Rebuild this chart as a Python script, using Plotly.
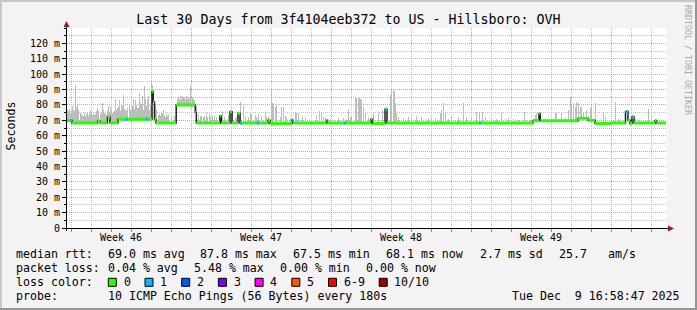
import numpy as np
import pandas as pd
import plotly.graph_objects as go

# ---------------- data ----------------
range_start = "2025-11-09 19:12:00"
range_end = "2025-12-09 19:12:00"

# median rtt (ms): step levels, each starting at a day offset from range_start
median_start_day = [0.00, 0.25, 1.525, 1.65, 2.025, 2.15, 2.55, 4.25, 4.31, 4.375, 4.45, 5.46, 6.415, 6.465,
                    7.65, 7.715, 8.15, 8.25, 8.55, 8.65, 10.05, 10.15, 11.25, 11.30, 12.975, 13.025,
                    15.20, 15.275, 15.90, 16.00, 23.30, 23.60, 23.665, 25.55, 26.05, 26.40, 27.15,
                    27.925, 28.05, 28.15, 28.25, 28.35, 29.40, 29.475]
median_ms = [69.8, 68.3, 69.6, 68.3, 72.2, 68.3, 70.7, 88.5, 82.0, 70.5, 68.3, 80.0, 75.0, 68.3,
             72.8, 68.3, 75.6, 68.3, 74.5, 68.3, 70.0, 68.0, 70.0, 68.2, 70.0, 68.3,
             70.7, 68.0, 77.2, 68.3, 69.8, 74.5, 69.7, 71.3, 70.0, 68.0, 68.3,
             75.6, 70.2, 68.0, 72.2, 68.3, 69.8, 68.3]
median_end_day = 29.95

# smoke: highest ping per interval (ms), by day offset
smoke_day = [
    0.00, 0.025, 0.075, 0.10, 0.125, 0.175, 0.225, 0.275, 0.325, 0.35, 0.415, 0.45, 0.465, 0.515, 0.55,
    0.575, 0.65, 0.70, 0.75, 0.80, 0.85, 0.90, 0.95, 1.00, 1.05, 1.10, 1.15, 1.20, 1.25, 1.30, 1.35,
    1.40, 1.45, 1.50, 1.55, 1.575, 1.65, 1.70, 1.75, 1.80, 1.85, 1.90, 1.95, 2.00, 2.05, 2.10, 2.15,
    2.20, 2.25, 2.30, 2.35, 2.40, 2.45, 2.50, 2.55, 2.60, 2.65, 2.70, 2.75, 2.815, 2.85, 2.90, 2.95,
    3.00, 3.035, 3.10, 3.15, 3.20, 3.25, 3.30, 3.35, 3.40, 3.45, 3.50, 3.55, 3.60, 3.65, 3.70, 3.75,
    3.775, 3.80, 3.85, 3.90, 3.925, 3.95, 4.00, 4.05, 4.065, 4.10, 4.15, 4.20, 4.235, 4.285, 4.335,
    4.40, 4.45, 4.485, 4.55, 4.60, 4.65, 4.70, 4.75, 4.80, 4.85, 4.90, 4.95, 5.00, 5.05, 5.20, 5.35,
    5.50, 5.55, 5.60, 5.65, 5.70, 5.75, 5.80, 5.85, 5.90, 5.95, 6.00, 6.05, 6.10, 6.185, 6.25, 6.30,
    6.35, 6.45, 6.55, 6.65, 6.70, 6.80, 6.85, 6.95, 7.00, 7.10, 7.15, 7.25, 7.35,
    7.483, 7.60, 7.75, 7.867, 8.067, 8.267, 8.40, 8.467, 8.65, 8.80, 8.933, 9.067, 9.15, 9.233,
    9.40, 9.483, 9.567, 9.733, 9.90, 9.983, 10.067, 10.20, 10.267, 10.30, 10.40, 10.483, 10.65,
    10.733, 10.817, 10.90, 10.983, 11.15, 11.40, 11.483, 11.567, 11.767, 11.90, 12.233, 12.483,
    12.60, 12.70, 12.817, 12.90, 13.15, 13.567, 13.817, 13.983, 14.067, 14.15, 14.233, 14.40,
    14.45, 14.483, 14.55, 14.567, 14.60, 14.65, 14.733, 14.817, 14.90,
    15.067, 15.317, 15.567, 15.767, 16.15, 16.20, 16.233, 16.317, 16.35, 16.40, 16.483, 16.567,
    16.817, 17.067, 17.233, 17.483, 17.733, 17.90, 18.067, 18.233, 18.433, 18.65, 18.733, 18.817,
    18.90, 19.067, 19.233, 19.567, 19.817, 19.983, 20.233, 20.483, 20.60, 20.767, 20.90, 21.20,
    21.483, 21.733, 21.90, 22.067, 22.317,
    22.567, 22.867, 23.15, 23.40, 23.483, 23.90, 24.40, 24.483, 24.70, 24.90, 25.067, 25.15,
    25.233, 25.317, 25.40, 25.483, 25.567, 25.65, 25.733, 25.817, 25.983, 26.15, 26.233, 26.40,
    26.817, 26.90, 27.40, 27.567, 27.983, 28.40, 29.067, 29.233, 29.40, 29.733]
smoke_top_ms = [
    75, 77, 76, 74.5, 77.5, 75, 76, 79.5, 77, 76, 93, 74, 78, 80, 75.5,
    77, 75, 74, 73, 72.5, 74.5, 73, 74, 75, 73, 74, 76.5, 75, 73.5, 75, 73.5,
    74, 76, 78, 74.5, 76, 74, 75, 81, 76.5, 75, 74, 73.5, 76, 79, 75, 78.9,
    76, 74.5, 75, 76, 84, 77, 78, 78.5, 83.2, 76, 80, 79, 86.5, 77.5, 77, 76,
    78, 78, 80, 77, 76, 79, 84, 77.5, 83, 80, 78, 78, 88, 81, 80, 79,
    86, 77, 92.3, 84, 82, 79, 84, 80, 85.5, 77, 80, 83, 95.5, 93, 86,
    80, 75, 77, 73.5, 74, 72.5, 75, 74, 76.5, 73, 72, 74, 73, 74, 73, 72.5,
    84, 85, 83, 85.5, 84, 86, 84.5, 85, 83, 86, 84, 85, 84, 92.6, 85, 84,
    83, 79, 74, 73, 72.5, 72, 73, 75, 72, 74, 72, 72.5, 73,
    72.4, 73.4, 76, 72.4, 73.4, 76.3, 71.3, 72.4, 81.7, 79, 72.4, 72.4, 74.9, 74.0,
    73.4, 72.4, 74.0, 72.8, 74.9, 72.4, 72.8, 90.8, 81.1, 80, 78.9, 80.0, 72.4,
    78.5, 78.5, 72.8, 72.4, 71.3, 75.6, 74.5, 74.9, 72.4, 71.3, 70.2, 73.4,
    76.3, 75.6, 72.4, 72.4, 70.6, 71.3, 71.3, 70.6, 77.1, 72.4, 71.9, 84.3,
    84.3, 84.3, 82, 84.3, 84.3, 84, 83, 78.5, 74.5,
    72.4, 74.5, 74.5, 76.7, 86.5, 88, 90.8, 89.7, 89, 81.1, 74.5, 72.4,
    71.3, 71.9, 70.6, 72.8, 72.4, 70.6, 71.3, 70.6, 71.3, 74.5, 76.7, 81.1,
    75.6, 70.6, 72.4, 72.4, 81.1, 72.4, 70.6, 75.6, 74.5, 75.6, 72.4, 71.3,
    70.6, 74.5, 70.6, 71.3, 70.6,
    70.2, 75.6, 70.2, 73.4, 74.5, 70.6, 74.9, 74.9, 74.5, 71.3, 76.7, 85.4,
    80.0, 81.1, 78.9, 82.2, 81.1, 78.5, 78.9, 75.6, 76.7, 77.8, 80.0, 81.1,
    74.9, 72.4, 81.8, 70.6, 75.6, 70.6, 77.1, 71.3, 70.2, 70.2]

# packet loss events (lost pings out of 10)
loss_day = [0.20, 2.985, 3.985, 8.70, 9.55, 11.285, 13.90, 15.965, 20.65, 28.00, 28.30]
loss_count = [1, 1, 1, 1, 1, 1, 1, 1, 1, 1, 1]

y_tick_vals = [0, 10, 20, 30, 40, 50, 60, 70, 80, 90, 100, 110, 120]
y_tick_text = ["0", "10 m", "20 m", "30 m", "40 m", "50 m", "60 m", "70 m", "80 m", "90 m",
               "100 m", "110 m", "120 m"]
week_start = ["2025-11-09", "2025-11-16", "2025-11-23", "2025-11-30"]
week_label = ["Week 46", "Week 47", "Week 48", "Week 49"]

loss_color_label = ["0", "1", "2", "3", "4", "5", "6-9", "10/10"]
loss_color_value = ["#26ff00", "#00b8ff", "#0059ff", "#7e00ff", "#ff00ff", "#ff5500", "#ff0000", "#a10000"]

rtt_stat_value = [69.0, 87.8, 67.5, 68.1]
rtt_stat_name = ["avg", "max", "min", "now"]
rtt_sd = 2.7
rtt_am_s = 25.7
loss_stat_value = [0.04, 5.48, 0.00, 0.00]
probe_text = "10 ICMP Echo Pings (56 Bytes) every 180s"
timestamp_text = "Tue Dec  9 16:58:47 2025"
title_text = "Last 30 Days from 3f4104eeb372 to US - Hillsboro: OVH"

# ---------------- helpers ----------------
t0 = pd.Timestamp(range_start)
def to_time(days):
    return [t0 + pd.Timedelta(days=float(d)) for d in days]

med_days = np.array(median_start_day)
med_vals = np.array(median_ms)
def median_at(d):
    i = np.searchsorted(med_days, d, side="right") - 1
    return med_vals[max(i, 0)]

MONO = "DejaVu Sans Mono"
def px_x(px):
    return (px - 67) / 600.0
def px_y(py):
    return (228 - py) / 200.0

fig = go.Figure()

# smoke
s_base = [median_at(d) - 0.3 for d in smoke_day]
s_h = [max(top - b, 0.5) for top, b in zip(smoke_top_ms, s_base)]
fig.add_trace(go.Bar(x=to_time(smoke_day), y=s_h, base=s_base, width=4320000 * 1.0,
                     marker=dict(color="rgba(188,188,188,0.99)", line=dict(width=0)),
                     hoverinfo="skip"))

# median - thin dark step line (verticals)
fig.add_trace(go.Scatter(x=to_time(median_start_day + [median_end_day]),
                         y=median_ms + [median_ms[-1]], mode="lines",
                         line=dict(color="#202020", width=1.5, shape="hv"), hoverinfo="skip"))

# median - green horizontal segments (0 loss)
ends = median_start_day[1:] + [median_end_day]
gx, gy = [], []
for s, e, v in zip(median_start_day, ends, median_ms):
    gx += [t0 + pd.Timedelta(days=s), t0 + pd.Timedelta(days=e), None]
    gy += [v, v, None]
fig.add_trace(go.Scatter(x=gx, y=gy, mode="lines", line=dict(color=loss_color_value[0], width=3),
                         hoverinfo="skip", connectgaps=False))

# loss-coloured pieces
bx, by = [], []
for d in loss_day:
    v = median_at(d)
    bx += [t0 + pd.Timedelta(days=d - 0.05), t0 + pd.Timedelta(days=d + 0.05), None]
    by += [v, v, None]
fig.add_trace(go.Scatter(x=bx, y=by, mode="lines", line=dict(color=loss_color_value[1], width=3),
                         hoverinfo="skip"))

# ---------------- layout ----------------
fig.update_layout(
    width=697, height=310,
    margin=dict(l=67, r=30, t=28, b=82, pad=0),
    paper_bgcolor="#f3f3f3", plot_bgcolor="#ffffff",
    showlegend=False, bargap=0,
    font=dict(family=MONO, size=10, color="#000000"),
    title=dict(text=title_text, x=0.5, xref="container", xanchor="center",
               y=1 - 19.5 / 310, yref="container", yanchor="middle",
               font=dict(family=MONO, size=13.3, color="#000000")),
)
fig.update_xaxes(
    type="date", range=[range_start, range_end],
    showgrid=True, gridcolor="rgb(235,150,150)", griddash="1px,1px", gridwidth=1,
    tick0="2025-11-16", dtick=7 * 86400000, showticklabels=False,
    ticks="outside", ticklen=3, tickcolor="rgb(220,120,120)",
    zeroline=False, showline=False, fixedrange=True,
    minor=dict(tick0="2025-11-09", dtick=86400000, showgrid=True, gridcolor="rgb(190,190,190)",
               griddash="1px,1px", gridwidth=1, ticks="outside", ticklen=3, tickcolor="#888888"),
)
fig.update_yaxes(
    range=[0, 130], tickmode="array", tickvals=y_tick_vals, ticktext=y_tick_text,
    showgrid=True, gridcolor="rgb(235,150,150)", griddash="1px,1px", gridwidth=1,
    ticks="outside", ticklen=4, tickcolor="#000000",
    tickfont=dict(family=MONO, size=10, color="#000000"),
    zeroline=False, showline=False, fixedrange=True,
    minor=dict(dtick=5, showgrid=True, gridcolor="rgb(190,190,190)", griddash="1px,1px",
               gridwidth=1, ticks="outside", ticklen=2, tickcolor="#000000"),
)

shapes = []
# frame of the image
shapes.append(dict(type="rect", xref="paper", yref="paper", x0=px_x(0), x1=px_x(697), y0=px_y(0), y1=px_y(2),
                   fillcolor="#c8c8c8", line=dict(width=0), layer="above"))
shapes.append(dict(type="rect", xref="paper", yref="paper", x0=px_x(0), x1=px_x(2), y0=px_y(0), y1=px_y(310),
                   fillcolor="#c8c8c8", line=dict(width=0), layer="above"))
shapes.append(dict(type="rect", xref="paper", yref="paper", x0=px_x(0), x1=px_x(697), y0=px_y(308), y1=px_y(310),
                   fillcolor="#969696", line=dict(width=0), layer="above"))
shapes.append(dict(type="rect", xref="paper", yref="paper", x0=px_x(695), x1=px_x(697), y0=px_y(0), y1=px_y(310),
                   fillcolor="#969696", line=dict(width=0), layer="above"))
# axes
shapes.append(dict(type="line", xref="paper", yref="paper", x0=px_x(66.5), x1=px_x(66.5),
                   y0=px_y(231), y1=px_y(24), line=dict(color="#000000", width=1), layer="above"))
shapes.append(dict(type="line", xref="paper", yref="paper", x0=px_x(63), x1=px_x(670),
                   y0=px_y(228.5), y1=px_y(228.5), line=dict(color="#000000", width=1), layer="above"))
# arrows
shapes.append(dict(type="path", xref="paper", yref="paper",
                   path="M {} {} L {} {} L {} {} Z".format(px_x(63.5), px_y(27), px_x(69.5), px_y(27),
                                                           px_x(66.5), px_y(21)),
                   fillcolor="#9b1c1c", line=dict(width=0), layer="above"))
shapes.append(dict(type="path", xref="paper", yref="paper",
                   path="M {} {} L {} {} L {} {} Z".format(px_x(668), px_y(225.5), px_x(668), px_y(231.5),
                                                           px_x(674), px_y(228.5)),
                   fillcolor="#9b1c1c", line=dict(width=0), layer="above"))

ann = []
def text(px, py, s, size=11.6, anchor="left", color="#000000", angle=0):
    ann.append(dict(xref="paper", yref="paper", x=px_x(px), y=px_y(py), text=s, showarrow=False,
                    xanchor=anchor, yanchor="middle", borderpad=0, textangle=angle,
                    font=dict(family=MONO, size=size, color=color)))

# week labels centred in each week
for ws, wl in zip(week_start, week_label):
    c = pd.Timestamp(ws) + pd.Timedelta(days=3.5)
    ann.append(dict(xref="x", yref="paper", x=c, y=px_y(237.5), text=wl, showarrow=False,
                    xanchor="center", yanchor="middle", borderpad=0,
                    font=dict(family=MONO, size=10, color="#000000")))

# y-axis title and watermark
text(10.5, 126, "Seconds", size=11.6, anchor="center", angle=-90)
text(688, 60, "RRDTOOL / TOBI OETIKER", size=8.3, anchor="center", color="#a8a8a8", angle=90)

# legend lines
L1, L2, L3, L4 = 254, 268, 282.3, 295.7
text(15.3, L1, "median rtt:")
for s, v, n in zip([106.6, 199.3, 292.0, 385.3], rtt_stat_value, rtt_stat_name):
    text(s, L1, "{:.1f} ms {}".format(v, n))
text(478.6, L1, "{:.1f} ms sd".format(rtt_sd))
text(557.6, L1, "{:.1f}".format(rtt_am_s))
text(606.6, L1, "am/s")

text(15.3, L2, "packet loss:")
for s, v, n in zip([106.6, 192.6, 278.6, 364.6], loss_stat_value, rtt_stat_name):
    text(s, L2, "{:.2f} % {}".format(v, n))

text(15.3, L3, "loss color:")
bx0 = 108.3
for lab, col in zip(loss_color_label, loss_color_value):
    shapes.append(dict(type="rect", xref="paper", yref="paper", x0=px_x(bx0), x1=px_x(bx0 + 8),
                       y0=px_y(L3 + 4), y1=px_y(L3 - 4), fillcolor=col,
                       line=dict(color="#000000", width=1), layer="above"))
    text(bx0 + 14.3, L3, lab)
    bx0 += 15 + 7 * len(lab) + 14.7

text(15.3, L4, "probe:")
text(106.6, L4, probe_text)
text(680.5, L4, timestamp_text, anchor="right")

fig.update_layout(shapes=shapes, annotations=ann)
fig.write_html("out.html")
